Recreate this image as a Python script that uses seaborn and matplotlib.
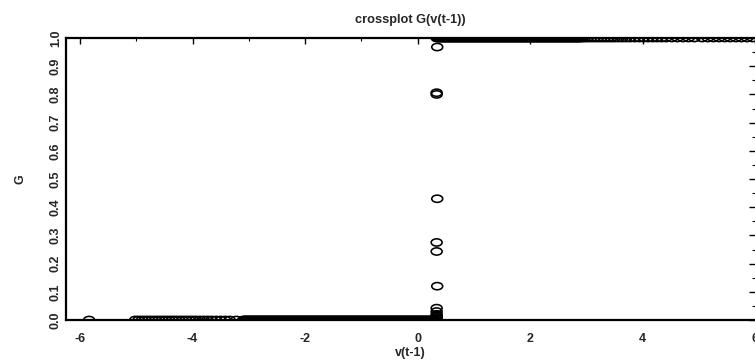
import matplotlib
matplotlib.use("Agg")
import matplotlib.pyplot as plt
from matplotlib.path import Path
from matplotlib.transforms import Affine2D
from matplotlib.ticker import MultipleLocator
import seaborn as sns
import pandas as pd

# v(t-1) values where G sits at the lower regime (G = 0)
x_low = [-5.84,
         -5.02, -4.96, -4.90, -4.84, -4.78, -4.72, -4.66, -4.60, -4.54, -4.48,
         -4.42, -4.36, -4.30, -4.24, -4.18, -4.12, -4.06, -4.00, -3.94, -3.87,
         -3.80, -3.73, -3.66, -3.58, -3.50, -3.42, -3.34, -3.22,
         -3.10, -3.08, -3.06, -3.04, -3.02, -3.00, -2.98, -2.96, -2.94, -2.92,
         -2.90, -2.88, -2.86, -2.84, -2.82, -2.80, -2.78, -2.76, -2.74, -2.72,
         -2.70, -2.68, -2.66, -2.64, -2.62, -2.60, -2.58, -2.56, -2.54, -2.52,
         -2.50, -2.48, -2.46, -2.44, -2.42, -2.40, -2.38, -2.36, -2.34, -2.32,
         -2.30, -2.28, -2.26, -2.24, -2.22, -2.20, -2.18, -2.16, -2.14, -2.12,
         -2.10, -2.08, -2.06, -2.04, -2.02, -2.00, -1.98, -1.96, -1.94, -1.92,
         -1.90, -1.88, -1.86, -1.84, -1.82, -1.80, -1.78, -1.76, -1.74, -1.72,
         -1.70, -1.68, -1.66, -1.64, -1.62, -1.60, -1.58, -1.56, -1.54, -1.52,
         -1.50, -1.48, -1.46, -1.44, -1.42, -1.40, -1.38, -1.36, -1.34, -1.32,
         -1.30, -1.28, -1.26, -1.24, -1.22, -1.20, -1.18, -1.16, -1.14, -1.12,
         -1.10, -1.08, -1.06, -1.04, -1.02, -1.00, -0.98, -0.96, -0.94, -0.92,
         -0.90, -0.88, -0.86, -0.84, -0.82, -0.80, -0.78, -0.76, -0.74, -0.72,
         -0.70, -0.68, -0.66, -0.64, -0.62, -0.60, -0.58, -0.56, -0.54, -0.52,
         -0.50, -0.48, -0.46, -0.44, -0.42, -0.40, -0.38, -0.36, -0.34, -0.32,
         -0.30, -0.28, -0.26, -0.24, -0.22, -0.20, -0.18, -0.16, -0.14, -0.12,
         -0.10, -0.08, -0.06, -0.04, -0.02, 0.00, 0.02, 0.04, 0.06, 0.08,
         0.10, 0.12, 0.14, 0.16, 0.18, 0.20, 0.22, 0.24, 0.26, 0.28,
         0.30, 0.32, 0.33]

# points in the transition zone
x_mid = [0.34, 0.34, 0.34, 0.34, 0.34, 0.34, 0.35, 0.34, 0.34, 0.35, 0.34, 0.34, 0.35]
g_mid = [0.005, 0.01, 0.015, 0.02, 0.03, 0.042, 0.12, 0.243, 0.275, 0.43, 0.80, 0.806, 0.968]

# v(t-1) values where G sits at the upper regime (G = 1)
x_high = [0.34, 0.36, 0.38, 0.40, 0.42, 0.44, 0.46, 0.48, 0.50, 0.52,
          0.54, 0.56, 0.58, 0.60, 0.62, 0.64, 0.66, 0.68, 0.70, 0.72,
          0.74, 0.76, 0.78, 0.80, 0.82, 0.84, 0.86, 0.88, 0.90, 0.92,
          0.94, 0.96, 0.98, 1.00, 1.02, 1.04, 1.06, 1.08, 1.10, 1.12,
          1.14, 1.16, 1.18, 1.20, 1.22, 1.24, 1.26, 1.28, 1.30, 1.32,
          1.34, 1.36, 1.38, 1.40, 1.42, 1.44, 1.46, 1.48, 1.50, 1.52,
          1.54, 1.56, 1.58, 1.60, 1.62, 1.64, 1.66, 1.68, 1.70, 1.72,
          1.74, 1.76, 1.78, 1.80, 1.82, 1.84, 1.86, 1.88, 1.90, 1.92,
          1.94, 1.96, 1.98, 2.00, 2.02, 2.04, 2.06, 2.08, 2.10, 2.12,
          2.14, 2.16, 2.18, 2.20, 2.22, 2.24, 2.26, 2.28, 2.30, 2.32,
          2.34, 2.36, 2.38, 2.40, 2.42, 2.44, 2.46, 2.48, 2.50, 2.52,
          2.54, 2.56, 2.58, 2.60, 2.62, 2.64, 2.66, 2.68, 2.70, 2.72,
          2.74, 2.76, 2.78, 2.80, 2.82, 2.84, 2.86, 2.88, 2.90, 2.93,
          2.97, 3.02, 3.08, 3.14, 3.20, 3.26, 3.32, 3.38, 3.44, 3.50,
          3.57, 3.64, 3.71, 3.78, 3.86, 3.94, 4.02, 4.10, 4.18, 4.26,
          4.34, 4.42, 4.52, 4.62, 4.72, 4.82, 4.92, 5.06, 5.16, 5.26,
          5.36, 5.46, 5.56, 5.66, 5.76, 5.86, 5.96]

df = pd.DataFrame({
    "v": x_low + x_mid + x_high,
    "G": [0.0] * len(x_low) + g_mid + [1.0] * len(x_high),
})

sns.set_style("white")
plt.rcParams["font.family"] = ["Liberation Sans", "DejaVu Sans"]
plt.rcParams["font.weight"] = "bold"
plt.rcParams["axes.unicode_minus"] = False

# ellipse-shaped marker, wider than tall
ellipse = Path.unit_circle().transformed(Affine2D().scale(1.0, 0.66))

fig = plt.figure(figsize=(7.55, 3.63), dpi=100)
ax = fig.add_axes([66 / 755, 1 - 320 / 363, 689 / 755, 282 / 363])

sns.scatterplot(data=df, x="v", y="G", ax=ax, marker=ellipse, s=62,
                facecolors="none", edgecolor="black", linewidth=1.15,
                legend=False)

ax.set_xlim(-6.25, 6.0)
ax.set_ylim(0, 1.0)
ax.xaxis.set_major_locator(MultipleLocator(2))
ax.xaxis.set_minor_locator(MultipleLocator(1))
ax.yaxis.set_minor_locator(MultipleLocator(0.05))
ax.tick_params(which="both", direction="in", top=True, right=True,
               color="black", labelsize=9)
ax.tick_params(axis="x", pad=9)
ax.tick_params(axis="y", pad=3)
ax.tick_params(which="major", length=4, width=1)
ax.tick_params(which="minor", length=2.5, width=0.8)
ax.set_yticks([i / 10 for i in range(11)])
ax.set_yticklabels([f"{i / 10:.1f}" for i in range(11)], rotation=90,
                   va="center")

for side in ["left", "bottom", "top"]:
    ax.spines[side].set_color("black")
    ax.spines[side].set_linewidth(1.6)
ax.spines["right"].set_visible(False)

ax.set_title("crossplot G(v(t-1))", fontsize=9.2, fontweight="bold", pad=11)
ax.set_xlabel("v(t-1)", fontsize=9, fontweight="bold", labelpad=2)
ax.set_ylabel("G", fontsize=9, fontweight="bold", labelpad=17)

fig.savefig("out.png", dpi=100)
